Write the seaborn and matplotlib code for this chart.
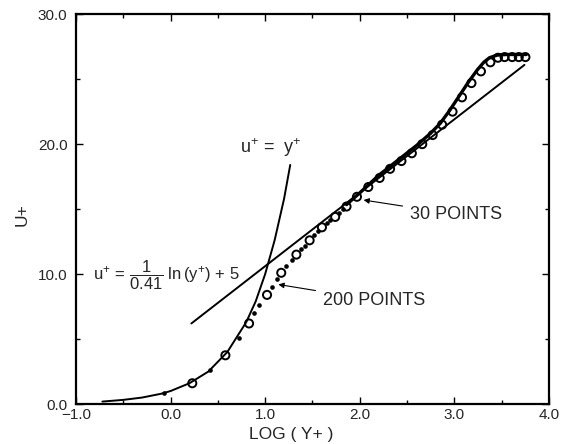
"""
Velocity profile in wall units: u+ against log(y+), with the viscous
sublayer, the log law and two discretisations of the profile.
"""

import matplotlib
matplotlib.use("Agg")
import matplotlib.pyplot as plt
from matplotlib.ticker import MultipleLocator, FuncFormatter
import seaborn as sns

# viscous sublayer u+ = y+
wall_x = [-0.72, -0.5, -0.3, -0.1, 0.0, 0.2, 0.4, 0.6, 0.8, 0.9, 1.0, 1.1, 1.2, 1.265]
wall_u = [0.19, 0.32, 0.5, 0.79, 1.0, 1.6, 2.5, 4.0, 6.3, 7.9, 10.0, 12.6, 15.8, 18.4]

# log law u+ = ln(y+)/0.41 + 5, straight line in these axes
log_x = [0.22, 3.74]
log_u = [6.2, 26.1]

# 30 point profile (open circles)
p30_x = [0.23, 0.58, 0.83, 1.02, 1.17, 1.33, 1.47, 1.60, 1.74, 1.86,
         1.97, 2.09, 2.21, 2.32, 2.44, 2.55, 2.66, 2.77, 2.87, 2.98,
         3.08, 3.18, 3.28, 3.38, 3.46, 3.53, 3.61, 3.68, 3.75]
p30_u = [1.6, 3.75, 6.2, 8.4, 10.1, 11.5, 12.6, 13.6, 14.4, 15.2,
         15.95, 16.7, 17.4, 18.1, 18.7, 19.3, 20.0, 20.7, 21.5, 22.5,
         23.6, 24.7, 25.6, 26.3, 26.65, 26.7, 26.7, 26.7, 26.7]

# 200 point profile: near the wall the points stand apart ...
p200_dot_x = [-0.07, 0.42, 0.72, 0.88, 0.94, 1.07, 1.12, 1.22, 1.28, 1.38,
              1.42, 1.52, 1.56, 1.65, 1.69, 1.78, 1.82]
p200_dot_u = [0.82, 2.65, 5.1, 7.0, 7.6, 9.0, 9.6, 10.6, 11.1, 11.9,
              12.2, 13.0, 13.3, 13.9, 14.2, 14.7, 15.0]
# ... further out they run together into a solid curve
p200_line_x = [1.86, 2.0, 2.2, 2.4, 2.6, 2.75, 2.85, 2.95, 3.05, 3.15,
               3.24, 3.31, 3.37, 3.45, 3.55, 3.76]
p200_line_u = [15.35, 16.25, 17.6, 18.75, 19.9, 20.85, 21.6, 22.6, 23.7, 24.8,
               25.7, 26.3, 26.65, 26.85, 26.9, 26.9]

x_ticks = [-1.0, 0.0, 1.0, 2.0, 3.0, 4.0]
y_ticks = [0.0, 10.0, 20.0, 30.0]

sns.set_theme(style="ticks")
plt.rcParams["font.family"] = ["Liberation Sans", "DejaVu Sans"]
plt.rcParams["mathtext.fontset"] = "custom"
plt.rcParams["mathtext.rm"] = "Liberation Sans"
plt.rcParams["mathtext.it"] = "Liberation Sans:italic"
plt.rcParams["mathtext.bf"] = "Liberation Sans:bold"

fig = plt.figure(figsize=(5.62, 4.44), dpi=100)
ax = fig.add_axes([0.135, 0.090, 0.842, 0.878])

sns.lineplot(x=wall_x, y=wall_u, sort=False, estimator=None,
             color="black", linewidth=1.4, ax=ax)
sns.lineplot(x=log_x, y=log_u, sort=False, estimator=None,
             color="black", linewidth=1.4, ax=ax)
sns.lineplot(x=p200_line_x, y=p200_line_u, sort=False, estimator=None,
             color="black", linewidth=2.4, ax=ax)
sns.scatterplot(x=p200_dot_x, y=p200_dot_u, s=11, color="black",
                linewidth=0, ax=ax)
sns.scatterplot(x=p30_x, y=p30_u, s=34, facecolors="none",
                edgecolors="black", linewidth=1.4, ax=ax, zorder=3)

fmt = FuncFormatter(lambda v, pos: f"{v:.1f}".replace("-", "\u2212"))
ax.set_xlim(x_ticks[0], x_ticks[-1])
ax.set_ylim(y_ticks[0], y_ticks[-1])
ax.set_xticks(x_ticks)
ax.set_yticks(y_ticks)
ax.xaxis.set_minor_locator(MultipleLocator(0.5))
ax.yaxis.set_minor_locator(MultipleLocator(5))
ax.xaxis.set_major_formatter(fmt)
ax.yaxis.set_major_formatter(fmt)
ax.tick_params(which="both", direction="in", top=True, right=True,
               color="black", width=1.0)
ax.tick_params(which="major", length=5, labelsize=11)
ax.tick_params(which="minor", length=3)
ax.tick_params(axis="x", pad=3)
ax.tick_params(axis="y", pad=6)
for sp in ax.spines.values():
    sp.set_linewidth(1.6)
    sp.set_color("black")

ax.set_xlabel("LOG ( Y+ )", fontsize=12.5)
ax.set_ylabel("U+", fontsize=12.5)
ax.xaxis.set_label_coords(0.455, -0.058)
ax.yaxis.set_label_coords(-0.097, 0.485)

ax.text(0.73, 19.7, r"$\mathrm{u}^{+}$ =  $\mathrm{y}^{+}$",
        fontsize=13, ha="left", va="center")
ax.text(-0.82, 9.9,
        r"$\mathrm{u}^{+}\,=\,\dfrac{1}{0.41}\;\mathrm{ln}\,(\mathrm{y}^{+})\,+\,5$",
        fontsize=12, ha="left", va="center")

arrow = dict(arrowstyle="-|>", color="black", lw=0.8, mutation_scale=8,
             shrinkA=3, shrinkB=0)
ax.annotate("30 POINTS", xy=(2.04, 15.7), xytext=(2.53, 14.6),
            fontsize=13, ha="left", va="center", arrowprops=arrow)
ax.annotate("200 POINTS", xy=(1.14, 9.2), xytext=(1.61, 8.0),
            fontsize=13, ha="left", va="center", arrowprops=arrow)

fig.savefig("out.png", dpi=100)
